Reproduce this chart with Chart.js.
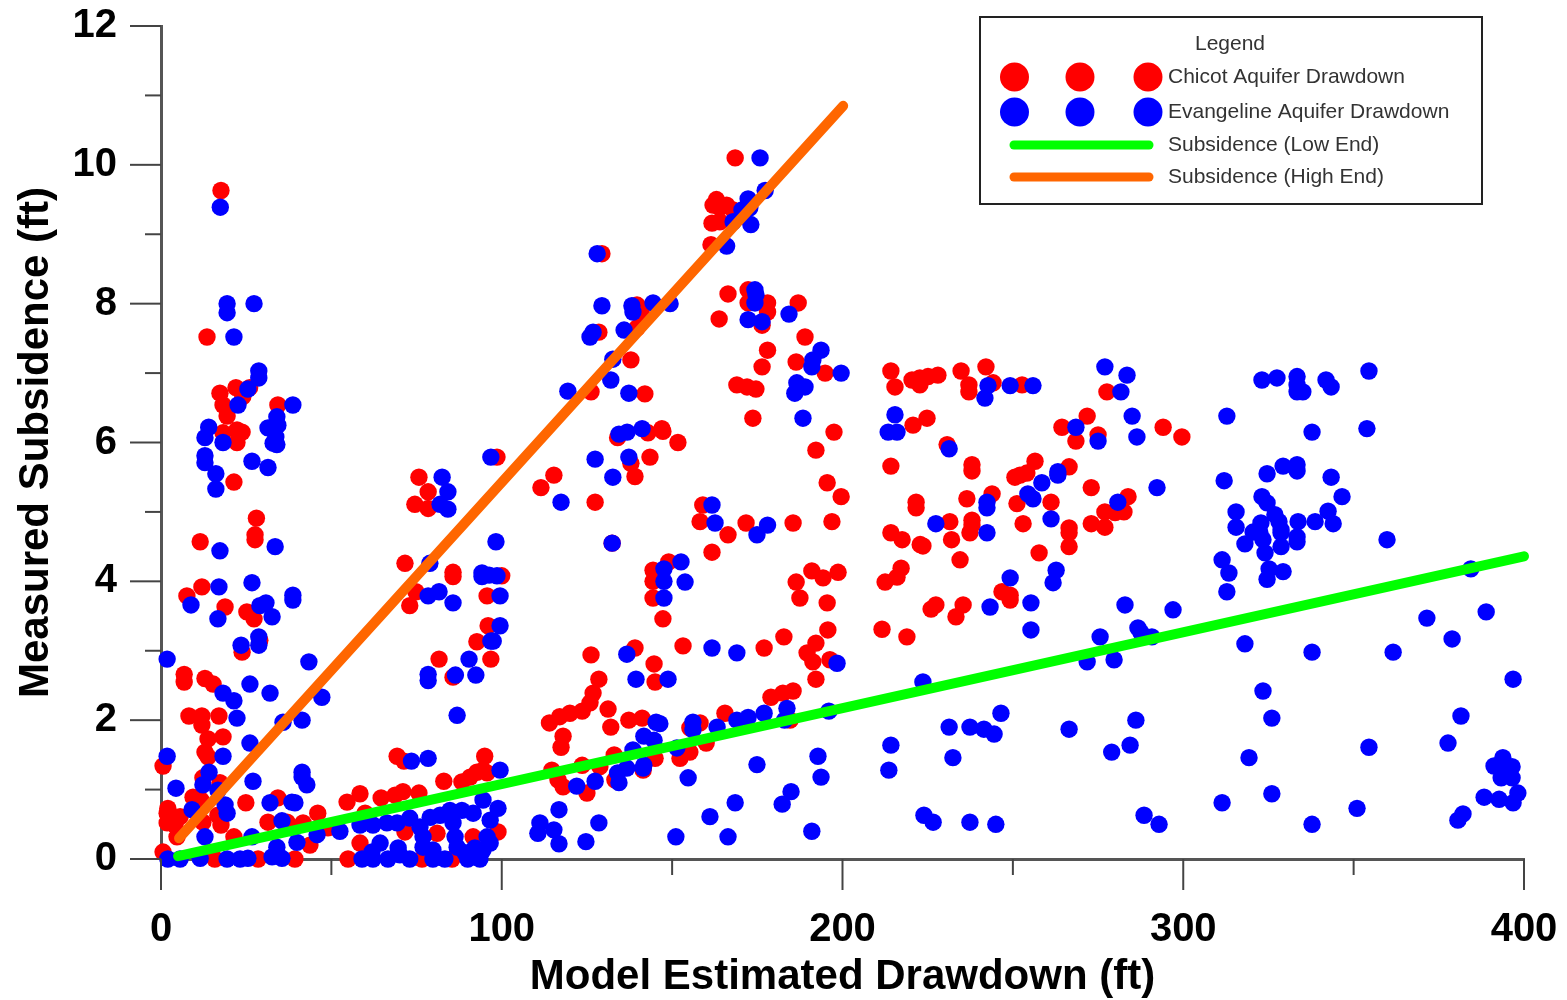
<!DOCTYPE html>
<html>
<head>
<meta charset="utf-8">
<title>Measured Subsidence vs Model Estimated Drawdown</title>
<script src="https://cdn.jsdelivr.net/npm/chart.js@4"></script>
<style>
    html, body { margin: 0; padding: 0; background: #fff; }
    canvas { display: block; }
</style>
</head>
<body>
<canvas id="subsidence-chart" width="1567" height="1000"></canvas>
<script>
// values: [drawdown ft, subsidence ft]
const chicotPoints = [
    [17.6,9.63],[13.5,7.52],[22,6.79],[17.3,6.71],[26,6.79],[18.2,6.54],[24,6.66],[19.4,6.38],[34.3,6.54],[23.8,6.15],
    [18.2,6.14],[22.3,6],[22.3,6.18],[21.4,5.43],[28,4.91],[27.6,4.67],[27.6,4.6],[11.5,4.57],[12,3.92],[7.6,3.79],
    [18.8,3.63],[25.2,3.56],[27.3,3.46],[29,3.15],[23.8,2.98],
    [75.7,5.5],[78.4,5.29],[74.5,5.11],[78.4,5.05],[98.6,5.79],[71.6,4.26],[74.8,3.85],[73,3.65],[85.7,4.13],[85.7,4.07],
    [100,4.08],[95.7,3.79],[96,3.36],[92.7,3.13],[96.8,2.88],[81.6,2.88],[85.7,2.62],
    [6.8,2.66],[6.8,2.55],[12.9,2.6],[15.3,2.52],[8.2,2.06],[12,2.06],[17,2.06],[12,1.93],[13.8,1.73],[18.2,1.76],
    [12.9,1.54],[13.8,1.47],[0.6,1.34],[12.3,1.17],[17.3,1.1],[9.4,0.89],[11.7,0.85],[2,0.73],[1.8,0.66],[5.6,0.61],
    [1.8,0.52],[4.1,0.49],[12.3,0.53],[16.7,0.63],[17.6,0.49],[24.9,0.81],[21.4,0.32],[0.6,0.1],[4.7,0.32],[15.8,0],
    [39.3,0],[34.3,0.88],[31.4,0.53],[43.7,0.2],[46,0.66],[41.7,0.52],[37,0.53],[49,0.45],[54.6,0.82],[58.4,0.94],
    [58.4,0.23],[54.9,0],[64.6,0.88],[68.7,0.92],[71,0.97],[75.7,0.95],[69.3,1.48],[71.3,1.41],[83,1.12],[95,1.48],
    [94.5,1.28],[92.7,1.25],[90.7,1.18],[88.3,1.11],[95.7,1.24],[81,0.37],[91.6,0.32],[98.9,0.39],[71.6,0.39],[59.9,0.66],
    [76.6,0],[85.4,0],[28.5,0],
    [168.5,10.1],[163,9.5],[166,9.42],[162,9.42],[164,9.38],[161.7,9.16],[164,9.18],[167.9,9.35],[161.4,8.85],[129.4,8.72],
    [139.7,7.98],[141,7.86],[139.7,7.65],[128.5,7.59],[137.9,7.19],[126.2,6.73],[142,6.7],[134,6.07],[142.9,6.14],[147,6.2],
    [147.3,6.16],[151.7,6],[143.5,5.79],[137.9,5.7],[139.1,5.51],[115.3,5.53],[111.5,5.35],[127.4,5.14],[166.4,8.14],[163.8,7.78],
    [172.3,8.2],[172.3,8.01],[178,8.01],[178,7.88],[176.4,7.69],[187,8.01],[189,7.52],[178,7.33],[186.4,7.16],[176.4,7.09],
    [169,6.83],[172,6.8],[174.6,6.77],[194.9,7],[173.7,6.35],[197.5,6.15],[192.2,5.89],[195.5,5.42],[199.6,5.22],[196.9,4.86],
    [185.5,4.84],[171.7,4.84],[166.4,4.67],[158.2,4.86],[159,5.1],
    [161.7,4.42],[149,4.28],[144.4,4.16],[144.4,4],[144.4,3.76],[147.3,3.46],[191,4.15],[198.7,4.13],[194.3,4.05],[186.4,3.99],
    [187.5,3.76],[195.5,3.69],[195.7,3.3],[182.8,3.2],[177,3.04],[153.2,3.07],[192.2,3.11],[189.6,2.97],[191.3,2.84],[196.3,2.87],
    [192.2,2.59],[185.5,2.42],[182.5,2.39],[179,2.33],[139.1,3.04],[132.4,4.55],[126.2,2.94],[144.7,2.81],[145,2.55],[128.5,2.59],
    [126.8,2.39],[125.9,2.25],[123.6,2.13],[120,2.1],[117,2.05],[114,1.96],[118,1.77],[117.4,1.61],[131.2,2.16],[132,1.9],
    [137.3,2],[141.2,2.03],[165.5,2.1],[158.2,1.96],[155.2,1.89],[133,1.5],[114.7,1.28],[116.5,1.14],[118,1.04],[123.6,1.35],
    [128.8,1.33],[125,0.95],[133.2,1.14],[141.5,1.28],[145,1.45],[152.3,1.45],[155.2,1.54],[160,1.67],[184.6,2],
    [214.2,7.03],[215.4,6.8],[220.4,6.9],[222.7,6.93],[222.7,6.83],[225.1,6.95],[228,6.97],[234.8,7.03],[242.1,7.09],[237.1,6.83],
    [237.1,6.73],[244.2,6.86],[252.7,6.83],[277.6,6.73],[220.7,6.25],[224.8,6.35],[271.8,6.38],[264.4,6.22],[268.5,6.02],[275,6.11],
    [294.1,6.22],[299.6,6.08],[230.7,5.97],[214.2,5.66],[238,5.68],[238,5.59],[256.5,5.73],[254.1,5.56],[252.1,5.53],[250.6,5.5],
    [266.5,5.65],[273,5.35],[243.9,5.26],[236.5,5.19],[221.6,5.14],[221.6,5.06],[251.2,5.12],[261.2,5.14],[283.8,5.22],[282.6,5],
    [280,4.99],[277,5],[273,4.83],[277,4.78],[231.5,4.86],[238,4.88],[238,4.81],[237.4,4.7],[253,4.83],[266.5,4.77],
    [266.5,4.7],[266.5,4.5],[232,4.6],[214.2,4.7],[217.5,4.6],[223.6,4.51],[222.8,4.53],[234.5,4.31],[257.7,4.41],[217.2,4.19],
    [216,4.06],[212.5,3.99],[246.8,3.85],[249.2,3.8],[249.2,3.73],[227.4,3.66],[226,3.6],[235.4,3.66],[233.3,3.49],[211.6,3.31],
    [218.9,3.2]
];
const evangelinePoints = [
    [17.4,9.39],[19.4,8],[19.4,7.87],[27.3,8],[21.4,7.52],[28.7,7.03],[28.7,6.93],[25.5,6.77],[22.6,6.54],[38.7,6.54],
    [34,6.37],[31.4,6.21],[34.3,6.25],[33.7,6.08],[32.9,5.99],[34,5.97],[14,6.22],[12.9,6.07],[18.2,6],[12.9,5.81],
    [12.9,5.71],[16.1,5.55],[16.1,5.33],[26.7,5.73],[31.4,5.64],[96.8,5.79],[82.5,5.5],[84.2,5.29],[81.9,5.11],[84.2,5.04],
    [33.5,4.5],[17.3,4.44],[78.9,4.26],[98.3,4.57],[94.2,4.12],[94.2,4.07],[96.3,4.09],[98.6,4.08],[17,3.92],[26.7,3.98],
    [8.8,3.66],[16.7,3.46],[78.4,3.79],[81.6,3.85],[85.7,3.69],[99.5,3.79],[99.5,3.36],[96.8,3.14],[38.7,3.8],[38.7,3.73],
    [30.8,3.69],[29,3.65],[32.6,3.49],[28.7,3.2],[23.5,3.08],[28.7,3.08],
    [78.4,2.66],[78.4,2.57],[86.4,2.65],[90.4,2.88],[92.4,2.65],[97.5,3.14],[86.9,2.07],
    [1.8,2.88],[43.4,2.84],[26.1,2.52],[32,2.39],[18.2,2.39],[21.4,2.28],[22.3,2.03],[47.2,2.33],[35.8,1.97],
    [41.4,2],[26.1,1.67],[18.2,1.48],[1.8,1.48],[14.1,1.25],[12.3,1.07],[4.4,1.02],[27,1.12],[41.4,1.25],[41.4,1.18],
    [42.8,1.07],[16.7,0.99],[18.8,0.78],[19.4,0.66],[9.1,0.71],[32,0.81],[38.4,0.82],[39.3,0.81],[35.5,0.55],[12.9,0.32],
    [26.7,0.32],[39.9,0.24],[45.8,0.35],[52.5,0.4],[2,0],[5.6,0],[11.5,0.01],[19.4,0],[23.2,0],[25.5,0.01],
    [32.6,0.03],[35.5,0.01],[34,0.17],
    [58.4,0.49],[62.2,0.49],[66.3,0.52],[69.3,0.52],[73,0.59],[76,0.46],[79,0.6],[81.9,0.63],[84.8,0.7],[88.3,0.7],
    [91.6,0.66],[94.5,0.85],[99.5,1.28],[98.9,0.73],[96.6,0.56],[76.9,0.32],[76.9,0.17],[64.3,0.23],[61.9,0.1],[69.6,0.16],
    [59,0],[62.2,0],[66.6,0],[70.1,0.06],[73,0],[79.8,0],[83.3,0],[79.8,0.13],[86.3,0.32],[89.2,0.09],
    [90,0],[93.6,0],[94.5,0.13],[96.6,0.23],[95.7,0.32],[85.7,0.52],[86.9,0.17],[92.1,0.16],[73.5,1.41],[78.4,1.45],
    [111.2,0.52],[110.6,0.37],[115.3,0.42],[116.8,0.71],[116.8,0.22],[124.7,0.25],[128.5,0.52],[151.1,0.32],[166.4,0.32],[161.1,0.61],
    [168.5,0.81],[174.9,1.36],[154.7,1.17],[191,0.4],[182.3,0.79],[184.9,0.97],[192.8,1.48],[193.7,1.18],[122,1.05],[127.4,1.12],
    [134.4,1.1],[134,1.24],[136.7,1.31],[141.5,1.31],[141.7,1.35],[138.5,1.57],[151.4,1.6],[141.7,1.77],[144.7,1.71],[145.3,1.97],
    [146.4,1.95],[156.1,1.97],[156.1,1.86],[163.2,1.9],[169,2],[172.3,2.04],[177,2.1],[183.7,2.17],[183,2],[196,2.13],
    [198.4,2.82],[136.7,2.95],[139.4,2.59],[148.8,2.59],[161.7,3.04],[169,2.97],[132.4,4.55],[152.6,4.28],[147.6,4.18],[147.6,4],
    [153.8,3.99],[147.6,3.76],[174.9,4.67],[178,4.81],[162.6,4.84],[161.7,5.1],
    [175.8,10.1],[177.3,9.63],[172.3,9.51],[172.8,9.38],[170.5,9.35],[167.9,9.18],[173.1,9.14],[166,8.83],[128,8.72],[174.3,8.2],
    [174.6,8.13],[174.3,8.01],[172.3,7.77],[176.4,7.74],[184.3,7.85],[129.4,7.97],[138.2,7.97],[138.5,7.88],[144.4,8.01],[149.4,8],
    [126.8,7.59],[125.9,7.52],[135.9,7.62],[132.6,7.2],[132,6.9],[119.4,6.74],[137.3,6.71],[193.7,7.33],[191.3,7.19],[191,7.09],
    [199.6,7],[186.6,6.86],[189,6.8],[186,6.71],[188.4,6.35],[136.8,6.15],[134.4,6.12],[141.2,6.2],[137.3,5.79],[127.4,5.76],
    [132.6,5.5],[117.4,5.14],
    [277,7.09],[283.5,6.97],[281.7,6.73],[241.8,6.64],[242.7,6.82],[249.2,6.82],[255.9,6.82],[215.4,6.4],[213.4,6.15],[216,6.15],
    [285,6.38],[286.4,6.08],[268.5,6.22],[275,6.02],[231.3,5.91],[263.2,5.58],[263.2,5.53],[258.5,5.42],[254.4,5.26],[255.9,5.19],
    [242.4,5.14],[242.4,5.06],[280.8,5.14],[292.3,5.35],[261.2,4.9],[227.4,4.83],[242.4,4.7],[262.7,4.16],[261.8,3.98],[249.2,4.05],
    [243.3,3.63],[255.3,3.69],[255.3,3.3],[282.9,3.66],[297,3.59],[275.6,3.2],[286.7,3.33],[290.8,3.2],[287.6,3.26],
    [354.5,7.03],[323.1,6.9],[327.5,6.93],[333.4,6.95],[333.4,6.83],[333.4,6.73],[335.1,6.73],[341.9,6.9],[343.4,6.8],[312.8,6.38],
    [337.8,6.15],[353.9,6.2],[329.3,5.66],[333.4,5.68],[333.4,5.59],[324.6,5.55],[312,5.45],[343.4,5.5],[346.6,5.22],[323.1,5.22],
    [324.6,5.13],[315.5,5],[326.9,4.96],[342.5,5.01],[328.1,4.86],[322.8,4.84],[315.5,4.78],[328.7,4.74],[320.5,4.71],[333.7,4.86],
    [338.7,4.86],[344,4.83],[322.5,4.7],[333.4,4.64],[333.4,4.57],[328.7,4.7],[323.4,4.6],[318.1,4.54],[328.7,4.5],[324,4.41],
    [311.4,4.31],[313.4,4.12],[325.2,4.18],[329.3,4.14],[324.6,4.03],[312.8,3.85],[359.8,4.6],[384.4,4.18],[318.1,3.1],[337.8,2.98],
    [361.6,2.98],[371.5,3.47],[378.9,3.17],[388.9,3.56],
    [271.8,2.84],[279.7,2.87],[223.6,2.55],[396.8,2.59],[323.4,2.42],[326,2.03],[246.5,2.1],[286.1,2],[381.5,2.06],[231.3,1.9],
    [237.4,1.9],[241.5,1.87],[244.5,1.8],[266.5,1.87],[214.2,1.64],[213.6,1.28],[232.4,1.46],[279,1.54],[284.4,1.64],[319.3,1.46],
    [354.5,1.61],[377.7,1.67],[393.8,1.46],[391.2,1.34],[396.5,1.33],[393.8,1.35],[393.3,1.17],[396.5,1.17],[326,0.94],[311.4,0.81],
    [351,0.73],[388.3,0.89],[392.7,0.86],[396.8,0.81],[398.2,0.95],[382.1,0.65],[380.6,0.56],[337.8,0.5],[288.5,0.63],[292.9,0.5],
    [223.9,0.63],[226.6,0.53],[237.4,0.53],[245,0.5]
];
const lowEndLine = [[5,0.04],[400,4.36]];
const highEndLine = [[5.3,0.3],[200.2,10.85]];

const xMinorTicks = [50, 150, 250, 350];
const yMinorTicks = [1, 3, 5, 7, 9, 11];

const seriesLabels = ['Chicot Aquifer Drawdown', 'Evangeline Aquifer Drawdown', 'Subsidence (Low End)', 'Subsidence (High End)'];
const seriesColors = ['#ff0000', '#0000ff', '#00ff00', '#ff6600'];

function toXY(list) {
    return list.map(function(p) { return { x: p[0], y: p[1] }; });
}

// long and short tick marks, the scale options only give one length
const tickMarks = {
    id: 'tickMarks',
    afterDraw: function(chart) {
        const ctx = chart.ctx;
        const xs = chart.scales.x;
        const ys = chart.scales.y;
        ctx.save();
        ctx.strokeStyle = '#444';
        ctx.lineWidth = 2;
        function mark(x1, y1, x2, y2) {
            ctx.beginPath();
            ctx.moveTo(x1, y1);
            ctx.lineTo(x2, y2);
            ctx.stroke();
        }
        xs.ticks.forEach(function(t) {
            const px = xs.getPixelForValue(t.value);
            mark(px, ys.bottom, px, ys.bottom + 31);
        });
        xMinorTicks.forEach(function(v) {
            const px = xs.getPixelForValue(v);
            mark(px, ys.bottom, px, ys.bottom + 16);
        });
        ys.ticks.forEach(function(t) {
            const py = ys.getPixelForValue(t.value);
            mark(xs.left, py, xs.left - 31, py);
        });
        yMinorTicks.forEach(function(v) {
            const py = ys.getPixelForValue(v);
            mark(xs.left, py, xs.left - 16, py);
        });
        ctx.restore();
    }
};

// boxed legend with three symbols per row like the original
const boxedLegend = {
    id: 'boxedLegend',
    afterDraw: function(chart) {
        const ctx = chart.ctx;
        ctx.save();
        ctx.fillStyle = '#fff';
        ctx.fillRect(980, 17, 502, 187);
        ctx.strokeStyle = '#222';
        ctx.lineWidth = 2;
        ctx.strokeRect(980, 17, 502, 187);

        ctx.font = '21px "Liberation Sans", Arial, sans-serif';
        ctx.fillStyle = '#333';
        ctx.textBaseline = 'middle';
        ctx.textAlign = 'center';
        ctx.fillText('Legend', 1230, 44);
        ctx.textAlign = 'left';

        const rows = [77, 112, 145, 177];
        [0, 1].forEach(function(i) {
            ctx.fillStyle = seriesColors[i];
            [1014.5, 1080, 1148].forEach(function(cx) {
                ctx.beginPath();
                ctx.arc(cx, rows[i], 14.5, 0, Math.PI * 2);
                ctx.fill();
            });
        });
        [2, 3].forEach(function(i) {
            ctx.strokeStyle = seriesColors[i];
            ctx.lineWidth = 9;
            ctx.lineCap = 'round';
            ctx.beginPath();
            ctx.moveTo(1014, rows[i]);
            ctx.lineTo(1149, rows[i]);
            ctx.stroke();
        });
        ctx.fillStyle = '#333';
        seriesLabels.forEach(function(label, i) {
            ctx.fillText(label, 1168, rows[i]);
        });
        ctx.restore();
    }
};

document.addEventListener('DOMContentLoaded', function() {
    const ctx = document.getElementById('subsidence-chart').getContext('2d');
    const tickFont = { family: '"Liberation Sans", Arial, sans-serif', size: 40, weight: 'bold' };
    const titleFont = { family: '"Liberation Sans", Arial, sans-serif', size: 42, weight: 'bold' };

    new Chart(ctx, {
        type: 'scatter',
        data: {
            datasets: [
                {
                    label: seriesLabels[3],
                    type: 'line',
                    data: toXY(highEndLine),
                    borderColor: seriesColors[3],
                    borderWidth: 10,
                    borderCapStyle: 'round',
                    pointRadius: 0,
                    clip: false,
                    order: 0
                },
                {
                    label: seriesLabels[2],
                    type: 'line',
                    data: toXY(lowEndLine),
                    borderColor: seriesColors[2],
                    borderWidth: 10,
                    borderCapStyle: 'round',
                    pointRadius: 0,
                    clip: false,
                    order: 1
                },
                {
                    label: seriesLabels[1],
                    data: toXY(evangelinePoints),
                    backgroundColor: seriesColors[1],
                    pointRadius: 8.7,
                    pointBorderWidth: 0,
                    clip: false,
                    order: 2
                },
                {
                    label: seriesLabels[0],
                    data: toXY(chicotPoints),
                    backgroundColor: seriesColors[0],
                    pointRadius: 8.7,
                    pointBorderWidth: 0,
                    clip: false,
                    order: 3
                }
            ]
        },
        options: {
            responsive: false,
            animation: false,
            layout: { padding: { top: 26, right: 43, left: 0, bottom: 0 } },
            plugins: {
                legend: { display: false },
                tooltip: { enabled: false }
            },
            scales: {
                x: {
                    type: 'linear',
                    min: 0,
                    max: 400,
                    afterFit: function(scale) {
                        scale.height = 141;
                        scale.paddingLeft = 0;
                        scale.paddingRight = 0;
                    },
                    grid: { display: false, drawTicks: false },
                    border: { display: true, color: '#555', width: 3 },
                    ticks: { stepSize: 100, padding: 47, font: tickFont, color: '#000', maxRotation: 0, autoSkip: false },
                    title: {
                        display: true,
                        text: 'Model Estimated Drawdown (ft)',
                        font: titleFont,
                        color: '#000',
                        padding: { top: 0, bottom: -3 }
                    }
                },
                y: {
                    type: 'linear',
                    min: 0,
                    max: 12,
                    afterFit: function(scale) {
                        scale.width = 161;
                        scale.paddingTop = 0;
                        scale.paddingBottom = 0;
                    },
                    grid: { display: false, drawTicks: false },
                    border: { display: true, color: '#555', width: 3 },
                    ticks: { stepSize: 2, padding: 44, font: tickFont, color: '#000', autoSkip: false },
                    title: {
                        display: true,
                        text: 'Measured Subsidence (ft)',
                        font: titleFont,
                        color: '#000',
                        padding: { top: 11, bottom: 0 }
                    }
                }
            }
        },
        plugins: [tickMarks, boxedLegend]
    });
});
</script>
</body>
</html>
